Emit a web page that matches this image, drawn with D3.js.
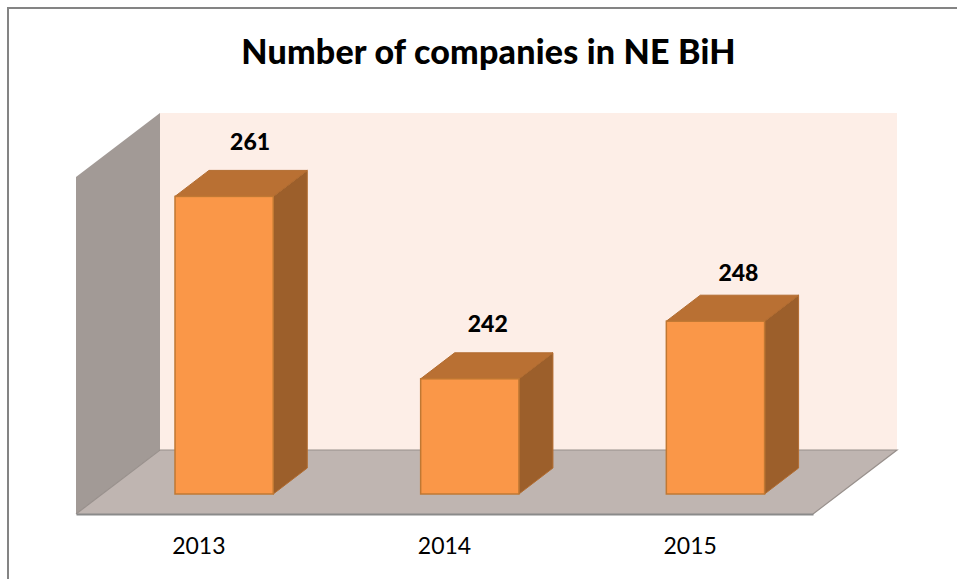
<!DOCTYPE html>
<html>
<head>
<meta charset="utf-8">
<script src="https://cdn.jsdelivr.net/npm/d3@7"></script>
<style>
	html, body {margin: 0; padding: 0; background: #fff;}
	svg {display: block;}
	text {font-family: Lato, Carlito, sans-serif; fill: #000;}
</style>
</head>
<body>
<svg id="chart" width="957" height="579"></svg>
<script>
'use strict';

const years = ['2013', '2014', '2015'];
const companies = [261, 242, 248];
const axisRange = [230, 265];
const chartTitle = 'Number of companies in NE BiH';

const svg = d3.select('#chart');

//Front edge of the floor, and how far the 3D box recedes from it.
const left = 76, right = 813, front = 514, wallTop = 177;
const depth = {x: 84, y: 64};
//Bars stand part way back on the floor.
const barShift = {x: 25.3, y: 20};
const barDepth = {x: 34, y: 26};

const xScale = d3.scaleBand().domain(years).range([left, right]).paddingInner(0.6).paddingOuter(0.3);
const yScale = d3.scaleLinear().domain(axisRange).range([front - barShift.y, 158]);

const poly = (pts) => pts.map((p) => p.join(',')).join(' ');

//Frame, only the top and left sides are visible.
svg.append('path')
	.attr('d', 'M8,579V8H957')
	.attr('fill', 'none')
	.attr('stroke', '#848484')
	.attr('stroke-width', 2);

//Walls and floor.
svg.append('polygon')
	.attr('points', poly([[left + depth.x, wallTop - depth.y], [right + depth.x, wallTop - depth.y], [right + depth.x, front - depth.y], [left + depth.x, front - depth.y]]))
	.attr('fill', '#fdeee7');
svg.append('polygon')
	.attr('points', poly([[left, wallTop], [left + depth.x, wallTop - depth.y], [left + depth.x, front - depth.y], [left, front]]))
	.attr('fill', '#a29a96');
svg.append('polygon')
	.attr('points', poly([[left, front], [left + depth.x, front - depth.y], [right + depth.x, front - depth.y], [right, front]]))
	.attr('fill', '#bfb5b1');
svg.append('path')
	.attr('d', `M${left},${front}L${left + depth.x},${front - depth.y}H${right + depth.x}L${right},${front}`)
	.attr('fill', 'none')
	.attr('stroke', '#98908c')
	.attr('stroke-width', 1.2);

//Bars: side, top, then front face.
const bars = svg.selectAll('.bar')
	.data(years)
	.enter()
	.append('g')
	.attr('class', 'bar');
const barX = (d) => xScale(d) + barShift.x;
const barValue = (d) => yScale(companies[years.indexOf(d)]);
const base = yScale(axisRange[0]);

bars.append('polygon')
	.attr('points', (d) => {
		const x = barX(d) + xScale.bandwidth();
		return poly([[x, barValue(d)], [x + barDepth.x, barValue(d) - barDepth.y], [x + barDepth.x, base - barDepth.y], [x, base]]);
	})
	.attr('fill', '#9c5f2b')
	.attr('stroke', '#b26c30');
bars.append('polygon')
	.attr('points', (d) => {
		const x = barX(d);
		const w = xScale.bandwidth();
		return poly([[x, barValue(d)], [x + barDepth.x, barValue(d) - barDepth.y], [x + w + barDepth.x, barValue(d) - barDepth.y], [x + w, barValue(d)]]);
	})
	.attr('fill', '#b97033')
	.attr('stroke', '#b26c30');
bars.append('rect')
	.attr('x', barX)
	.attr('y', barValue)
	.attr('width', xScale.bandwidth())
	.attr('height', (d) => base - barValue(d))
	.attr('fill', '#fa9748')
	.attr('stroke', '#c07833')
	.attr('stroke-width', 1.5);

//Data labels sit by hand above each bar in the original.
const labelNudge = [[26, -46], [18, -47], [23, -40]];
bars.append('text')
	.attr('x', (d, i) => barX(d) + xScale.bandwidth() / 2 + labelNudge[i][0])
	.attr('y', (d, i) => barValue(d) + labelNudge[i][1])
	.attr('text-anchor', 'middle')
	.style('font-size', '23px')
	.style('font-weight', 900)
	.text((d, i) => companies[i]);

//Axis along the front edge of the floor.
const xAxis = d3.axisBottom(xScale).tickSize(0).tickPadding(24);
const axisG = svg.append('g')
	.attr('transform', `translate(0, ${front})`)
	.call(xAxis);
axisG.select('.domain')
	.attr('stroke', '#8a8a8a')
	.attr('stroke-width', 2);
axisG.selectAll('text')
	.style('font-size', '23px');

svg.append('text')
	.attr('x', 488.5)
	.attr('y', 64)
	.attr('text-anchor', 'middle')
	.style('font-size', '34px')
	.style('font-weight', 900)
	.style('letter-spacing', '0.2px')
	.text(chartTitle);
</script>
</body>
</html>
